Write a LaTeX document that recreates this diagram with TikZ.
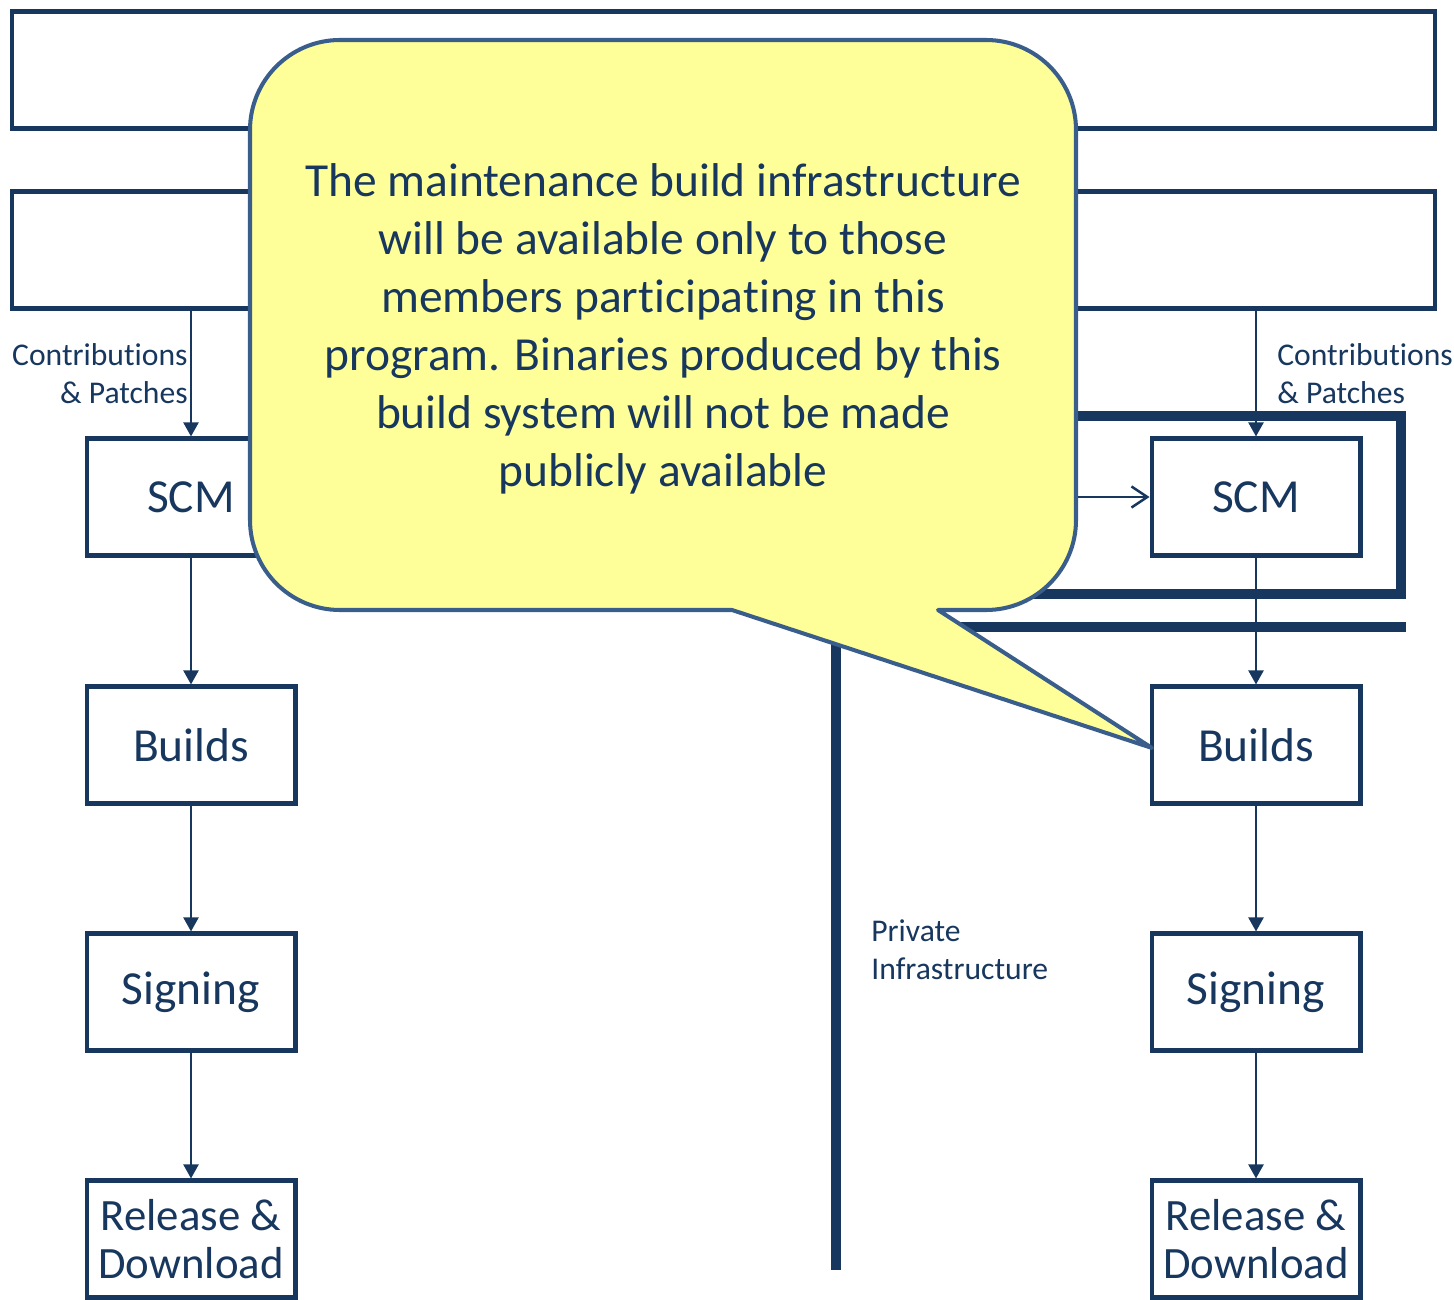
\documentclass[tikz,border=0pt]{standalone}
\usepackage{fontspec}
\setmainfont[Ligatures=NoCommon]{Carlito}
\usepackage{xcolor}
\usetikzlibrary{arrows.meta}

\definecolor{navy}{HTML}{17375E}
\definecolor{calloutfill}{HTML}{FFFF99}
\definecolor{calloutline}{HTML}{3A5E8C}

\begin{document}
\begin{tikzpicture}[x=0.02cm, y=-0.02cm,
    stage/.style={draw=navy, line width=2.3pt, fill=white, minimum width=4.18cm,
        minimum height=2.34cm, inner sep=0pt, text=navy, align=center,
        font=\fontsize{27}{27.5}\selectfont},
    band/.style={draw=navy, line width=2.3pt, fill=white, minimum width=28.46cm,
        minimum height=2.34cm, inner sep=0pt},
    flow/.style={draw=navy, line width=1.4pt, -{Triangle[length=8pt,width=8.5pt]}},
    feed/.style={draw=navy, line width=1.4pt, -{Straight Barb[length=9pt,width=12pt]}},
    heavy/.style={draw=navy, line width=5.2pt},
    note/.style={text=navy, font=\fontsize{18}{21.6}\selectfont, inner sep=0pt}]
    \useasboundingbox (0,0) rectangle (1454,1300);

    % private infrastructure boundary
    \draw[heavy] (900,416) -- (1401,416) -- (1401,594) -- (900,594);
    \draw[heavy] (900,627) -- (1406,627);
    \draw[navy, line width=5.8pt] (836,620) -- (836,1270);

    % top bands
    \node[band] (band1) at (723.5,70) {};
    \node[band] (band2) at (723.5,250) {};

    % left column
    \node[stage] (scmL) at (191,497) {SCM};
    \node[stage] (buildL) at (191,745) {Builds};
    \node[stage] (signL) at (191,992) {Signing};
    \node[stage, font=\fontsize{25.5}{27.5}\selectfont] (relL) at (191,1239) {Release \&\\Download};

    % right column
    \node[stage] (scmR) at (1256,497) {SCM};
    \node[stage] (buildR) at (1256,745) {Builds};
    \node[stage] (signR) at (1256,992) {Signing};
    \node[stage, font=\fontsize{25.5}{27.5}\selectfont] (relR) at (1256,1239) {Release \&\\Download};

    \draw[flow] (scmL |- band2.south) -- (scmL.north);
    \draw[flow] (scmL) -- (buildL);
    \draw[flow] (buildL) -- (signL);
    \draw[flow] (signL) -- (relL);
    \draw[flow] (scmR |- band2.south) -- (scmR.north);
    \draw[flow] (scmR) -- (buildR);
    \draw[flow] (buildR) -- (signR);
    \draw[flow] (signR) -- (relR);

    \coordinate (mirror) at (1000,497);
    \draw[feed] (mirror) -- (scmR.west);

    \node[note, anchor=east, align=right] (contribL) at (188,374) {Contributions\\\& Patches};
    \node[note, anchor=west, align=left] (contribR) at (1277,374) {Contributions\\\& Patches};
    \node[note, anchor=west, align=left] (private) at (871,950) {Private\\Infrastructure};

    % callout
    \draw[fill=calloutfill, draw=calloutline, line width=2.3pt, line join=round]
        (250,130) arc[start angle=180, end angle=270, radius=90]
        -- (986,40) arc[start angle=270, end angle=360, radius=90]
        -- (1076,520) arc[start angle=0, end angle=90, radius=90]
        -- (938,610) -- (1152,748) -- (732,610)
        -- (340,610) arc[start angle=90, end angle=180, radius=90] -- cycle;
    \node[text=navy, align=center, font=\fontsize{27}{33}\selectfont] (msg) at (663,329)
        {The maintenance build infrastructure\\will be available only to those\\members participating in this\\program. Binaries produced by this\\build system will not be made\\publicly available};
\end{tikzpicture}
\end{document}
